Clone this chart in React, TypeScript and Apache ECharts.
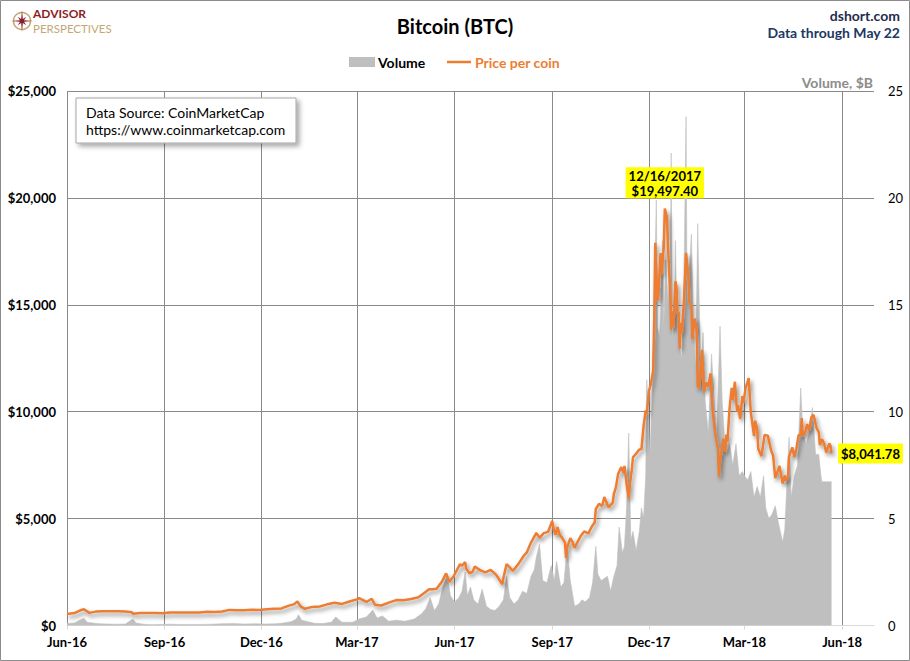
import React, { useEffect, useRef } from "react";
import * as echarts from "echarts";

// ---------- data ----------
const priceDates = [
  "2016-06-01","2016-06-08","2016-06-13","2016-06-17","2016-06-22","2016-06-28","2016-07-05","2016-07-12","2016-07-19","2016-07-26",
  "2016-08-01","2016-08-02","2016-08-09","2016-08-16","2016-08-23","2016-08-30","2016-09-06","2016-09-13","2016-09-20","2016-09-27",
  "2016-10-04","2016-10-11","2016-10-18","2016-10-25","2016-11-01","2016-11-08","2016-11-15","2016-11-22","2016-11-29","2016-12-06",
  "2016-12-13","2016-12-20","2016-12-27","2017-01-01","2017-01-04","2017-01-07","2017-01-11","2017-01-18","2017-01-25","2017-02-01",
  "2017-02-08","2017-02-15","2017-02-22","2017-03-01","2017-03-03","2017-03-10","2017-03-15","2017-03-18","2017-03-24","2017-03-31",
  "2017-04-07","2017-04-14","2017-04-21","2017-04-28","2017-05-04","2017-05-08","2017-05-12","2017-05-15","2017-05-20","2017-05-24",
  "2017-05-25","2017-05-27","2017-05-31","2017-06-06","2017-06-08","2017-06-11","2017-06-12","2017-06-15","2017-06-18","2017-06-20",
  "2017-06-25","2017-06-30","2017-07-05","2017-07-10","2017-07-16","2017-07-17","2017-07-20","2017-07-26","2017-07-31","2017-08-05",
  "2017-08-08","2017-08-12","2017-08-17","2017-08-20","2017-08-24","2017-08-28","2017-09-01","2017-09-02","2017-09-04","2017-09-06",
  "2017-09-08","2017-09-10","2017-09-13","2017-09-14","2017-09-15","2017-09-18","2017-09-20","2017-09-22","2017-09-25","2017-09-28",
  "2017-10-01","2017-10-05","2017-10-08","2017-10-11","2017-10-12","2017-10-15","2017-10-18","2017-10-20","2017-10-24","2017-10-28",
  "2017-10-29","2017-10-31","2017-11-02","2017-11-05","2017-11-07","2017-11-08","2017-11-10","2017-11-12","2017-11-13","2017-11-15",
  "2017-11-16","2017-11-19","2017-11-22","2017-11-24","2017-11-26","2017-11-28","2017-11-29","2017-12-01","2017-12-03","2017-12-05",
  "2017-12-06","2017-12-07","2017-12-08","2017-12-09","2017-12-10","2017-12-12","2017-12-13","2017-12-15","2017-12-16","2017-12-18",
  "2017-12-19","2017-12-20","2017-12-21","2017-12-22","2017-12-23","2017-12-24","2017-12-26","2017-12-27","2017-12-28","2017-12-29",
  "2017-12-30","2017-12-31","2018-01-01","2018-01-03","2018-01-05","2018-01-07","2018-01-08","2018-01-10","2018-01-11","2018-01-13",
  "2018-01-15","2018-01-16","2018-01-17","2018-01-18","2018-01-20","2018-01-22","2018-01-24","2018-01-26","2018-01-28","2018-01-30",
  "2018-02-01","2018-02-02","2018-02-04","2018-02-05","2018-02-06","2018-02-08","2018-02-09","2018-02-11","2018-02-12","2018-02-13",
  "2018-02-15","2018-02-17","2018-02-18","2018-02-20","2018-02-22","2018-02-23","2018-02-25","2018-02-27","2018-02-28","2018-03-02",
  "2018-03-05","2018-03-07","2018-03-10","2018-03-11","2018-03-13","2018-03-14","2018-03-17","2018-03-20","2018-03-23","2018-03-26",
  "2018-03-28","2018-03-30","2018-04-03","2018-04-06","2018-04-08","2018-04-09","2018-04-11","2018-04-12","2018-04-15","2018-04-17",
  "2018-04-19","2018-04-21","2018-04-23","2018-04-24","2018-04-25","2018-04-27","2018-04-29","2018-05-01","2018-05-03","2018-05-05",
  "2018-05-08","2018-05-10","2018-05-11","2018-05-13","2018-05-15","2018-05-17","2018-05-18","2018-05-20","2018-05-21","2018-05-22"
];
const priceValues = [
  537,580,700,757,590,650,670,665,672,655,
  625,547,590,580,585,575,610,608,610,605,
  610,640,637,655,730,710,710,740,730,760,
  780,800,930,998,1130,895,780,870,890,990,
  1060,1010,1120,1220,1280,1100,1250,970,935,1070,
  1190,1180,1240,1320,1540,1700,1700,1720,2040,2440,
  2310,2040,2290,2860,2800,2960,2650,2440,2520,2760,
  2590,2480,2600,2380,1930,2230,2870,2560,2870,3250,
  3420,3880,4330,4100,4320,4380,4890,4580,4240,4600,
  4230,4120,3880,3155,3640,4090,3910,3630,3920,4200,
  4400,4310,4610,4830,5450,5690,5590,6010,5530,5750,
  6150,6470,7080,7410,7150,7460,6620,5950,6560,7320,
  7870,8040,8230,8250,9330,10060,9890,10975,11320,11920,
  14290,17900,16570,15180,15460,17420,16410,17710,19497.4,19110,
  17780,16620,15800,13830,14700,13930,16100,15840,14610,14660,
  12950,14160,13660,15200,17430,16480,15170,14970,13400,14360,
  13820,11180,11120,11470,12900,10930,11360,11170,11790,10110,
  9170,8830,8280,6960,7750,8270,8740,8130,8930,8600,
  10170,11110,10550,11400,10010,10300,9660,10730,10400,11090,
  11570,9970,8870,9580,9190,8270,7920,8910,8880,8210,
  7950,6890,7460,6640,7020,6770,6970,7890,8330,7900,
  8290,8900,8930,9700,8850,8990,9420,9120,9740,9860,
  9230,9040,8440,8720,8510,8090,8250,8510,8420,8041.78
];

const volumeDates = [
  "2016-06-01","2016-06-08","2016-06-13","2016-06-17","2016-06-20","2016-06-25","2016-07-02","2016-07-10","2016-07-18","2016-07-26",
  "2016-08-02","2016-08-05","2016-08-12","2016-08-20","2016-08-28","2016-09-05","2016-09-15","2016-09-25","2016-10-05","2016-10-15",
  "2016-10-25","2016-11-05","2016-11-15","2016-11-25","2016-12-05","2016-12-15","2016-12-22","2016-12-29","2017-01-03","2017-01-05",
  "2017-01-08","2017-01-12","2017-01-20","2017-01-28","2017-02-05","2017-02-09","2017-02-15","2017-02-25","2017-03-03","2017-03-10",
  "2017-03-16","2017-03-20","2017-03-25","2017-03-31","2017-04-07","2017-04-15","2017-04-24","2017-05-01","2017-05-05","2017-05-09",
  "2017-05-13","2017-05-17","2017-05-21","2017-05-25","2017-05-28","2017-06-01","2017-06-05","2017-06-08","2017-06-11","2017-06-13",
  "2017-06-16","2017-06-19","2017-06-23","2017-06-27","2017-07-01","2017-07-05","2017-07-09","2017-07-13","2017-07-17","2017-07-20",
  "2017-07-23","2017-07-27","2017-07-31","2017-08-04","2017-08-08","2017-08-12","2017-08-15","2017-08-17","2017-08-20","2017-08-23",
  "2017-08-27","2017-08-31","2017-09-03","2017-09-05","2017-09-09","2017-09-12","2017-09-15","2017-09-18","2017-09-22","2017-09-26",
  "2017-09-29","2017-10-02","2017-10-06","2017-10-09","2017-10-12","2017-10-14","2017-10-17","2017-10-20","2017-10-23","2017-10-26",
  "2017-10-29","2017-11-01","2017-11-03","2017-11-06","2017-11-08","2017-11-10","2017-11-12","2017-11-14","2017-11-16","2017-11-19",
  "2017-11-22","2017-11-24","2017-11-26","2017-11-28","2017-11-29","2017-12-01","2017-12-02","2017-12-04","2017-12-06","2017-12-07",
  "2017-12-08","2017-12-09","2017-12-11","2017-12-12","2017-12-13","2017-12-14","2017-12-15","2017-12-17","2017-12-19","2017-12-20",
  "2017-12-21","2017-12-22","2017-12-23","2017-12-25","2017-12-26","2017-12-27","2017-12-28","2017-12-30","2018-01-01","2018-01-03",
  "2018-01-05","2018-01-06","2018-01-08","2018-01-10","2018-01-12","2018-01-14","2018-01-16","2018-01-17","2018-01-19","2018-01-21",
  "2018-01-23","2018-01-26","2018-01-29","2018-02-01","2018-02-03","2018-02-06","2018-02-08","2018-02-10","2018-02-12","2018-02-15",
  "2018-02-18","2018-02-21","2018-02-24","2018-02-27","2018-03-01","2018-03-04","2018-03-07","2018-03-10","2018-03-13","2018-03-16",
  "2018-03-19","2018-03-21","2018-03-24","2018-03-27","2018-03-30","2018-04-02","2018-04-06","2018-04-08","2018-04-12","2018-04-14",
  "2018-04-17","2018-04-20","2018-04-23","2018-04-25","2018-04-28","2018-05-01","2018-05-04","2018-05-07","2018-05-10","2018-05-12",
  "2018-05-13","2018-05-22"
];
const volumeValues = [
  0.09,0.12,0.25,0.34,0.15,0.12,0.08,0.07,0.06,0.07,
  0.30,0.12,0.06,0.04,0.05,0.06,0.05,0.05,0.05,0.06,
  0.08,0.09,0.07,0.08,0.07,0.08,0.12,0.18,0.30,0.50,
  0.25,0.20,0.10,0.09,0.15,0.40,0.15,0.15,0.30,0.40,
  0.72,0.35,0.45,0.20,0.25,0.20,0.30,0.55,0.80,1.30,
  0.70,1.00,1.80,2.40,1.40,1.10,1.30,1.60,2.50,1.40,
  1.80,1.20,1.00,1.70,0.90,0.75,0.70,0.90,1.20,2.30,
  1.30,1.00,1.20,1.60,1.50,2.30,2.60,3.20,3.80,2.10,
  2.00,2.80,2.10,3.00,1.80,2.00,3.70,2.10,0.90,1.00,
  1.20,1.10,1.30,2.00,3.70,2.40,2.10,2.20,2.30,1.60,
  2.30,2.80,4.60,3.40,3.70,5.50,9.00,4.00,4.40,3.50,
  4.40,5.50,5.00,7.00,11.5,9.00,8.00,10.5,14.0,17.5,
  19.9,14.0,13.5,14.5,16.5,18.0,14.0,17.1,15.0,16.5,
  15.5,22.1,13.5,14.0,18.0,15.0,15.2,13.0,12.5,16.0,
  23.8,15.0,16.5,18.3,14.0,12.0,18.8,16.0,11.5,13.7,
  10.5,9.0,12.7,10.0,9.0,14.0,10.5,9.0,8.0,8.5,
  7.5,8.5,7.0,7.2,7.0,6.8,7.2,6.0,6.5,6.0,
  7.0,5.5,5.0,5.2,5.6,4.8,3.9,4.5,8.8,6.0,
  7.0,7.5,11.1,9.0,8.5,9.0,10.2,8.0,8.0,7.0,
  6.72,6.72
];

const tickDates = ["2016-06-01","2016-09-01","2016-12-01","2017-03-01","2017-06-01","2017-09-01","2017-12-01","2018-03-01","2018-06-01"];
const tickLabels = ["Jun-16","Sep-16","Dec-16","Mar-17","Jun-17","Sep-17","Dec-17","Mar-18","Jun-18"];
const axisStart = "2016-06-01";
const axisEnd = "2018-07-01";
const peakDate = "2017-12-16";
const peakValue = 19497.4;
const lastDate = "2018-05-22";
const lastValue = 8041.78;

// ---------- helpers ----------
const FONT = 'Lato, "Open Sans", "Noto Sans", sans-serif';

function buildDays(start: string, end: string): string[] {
  const out: string[] = [];
  const [sy, sm, sd] = start.split("-").map(Number);
  const [ey, em, ed] = end.split("-").map(Number);
  const endT = Date.UTC(ey, em - 1, ed);
  for (let t = Date.UTC(sy, sm - 1, sd); t <= endT; t += 86400000) {
    out.push(new Date(t).toISOString().slice(0, 10));
  }
  return out;
}

const days = buildDays(axisStart, axisEnd);
const dayIndex: Record<string, number> = {};
days.forEach((d, i) => (dayIndex[d] = i));
const tickSet = new Set(tickDates);
const labelOf: Record<string, string> = {};
tickDates.forEach((d, i) => (labelOf[d] = tickLabels[i]));
const isTick = (_i: number, v: string) => tickSet.has(v);

const money = (v: number, dec: number) =>
  "$" + v.toLocaleString("en-US", { minimumFractionDigits: dec, maximumFractionDigits: dec });
const usDate = (d: string) => {
  const [y, m, dd] = d.split("-");
  return `${+m}/${+dd}/${y}`;
};

function starPoints(cx: number, cy: number): number[][] {
  const pts: number[][] = [];
  for (let k = 0; k < 16; k++) {
    const a = (k * Math.PI) / 8 - Math.PI / 2;
    const r = k % 4 === 0 ? 11 : k % 2 === 0 ? 6 : 2.2;
    pts.push([cx + r * Math.cos(a), cy + r * Math.sin(a)]);
  }
  return pts;
}

export default function App() {
  const ref = useRef<HTMLDivElement>(null);

  useEffect(() => {
    if (!ref.current) return;
    const chart = echarts.init(ref.current, undefined, { renderer: "svg" });

    const priceData = priceDates.map((d, i) => [dayIndex[d], priceValues[i]]);
    const volumeData = volumeDates.map((d, i) => [dayIndex[d], volumeValues[i]]);

    const txt = (x: number, y: number, text: string, size: number, weight: string, fill: string, align = "left") => ({
      type: "text",
      x,
      y,
      silent: true,
      style: {
        text,
        fill,
        fontSize: size,
        fontWeight: weight,
        fontFamily: FONT,
        align,
        textAlign: align,
        verticalAlign: "middle",
        textVerticalAlign: "middle",
      },
    });

    const option: any = {
      animation: false,
      backgroundColor: "#ffffff",
      grid: { left: 67, right: 36, top: 91, bottom: 35.5, containLabel: false },
      xAxis: {
        type: "category",
        data: days,
        boundaryGap: false,
        axisLine: { show: true, lineStyle: { color: "#d9d9d9", width: 1 } },
        axisTick: { show: true, interval: isTick, length: 4, lineStyle: { color: "#d9d9d9" } },
        axisLabel: {
          interval: isTick,
          formatter: (v: string) => labelOf[v] || "",
          fontFamily: FONT,
          fontWeight: "bold",
          fontSize: 13,
          color: "#000",
          margin: 10,
        },
        splitLine: { show: true, interval: isTick, lineStyle: { color: "#8a8a8a", width: 1 } },
      },
      yAxis: [
        {
          type: "value",
          min: 0,
          max: 25000,
          interval: 5000,
          position: "left",
          axisLine: { show: false },
          axisTick: { show: false },
          axisLabel: {
            formatter: (v: number) => money(v, 0),
            fontFamily: FONT,
            fontWeight: "bold",
            fontSize: 13,
            color: "#000",
            margin: 11,
          },
          splitLine: {
            show: true,
            lineStyle: { color: ["#d9d9d9", "#8a8a8a", "#8a8a8a", "#8a8a8a", "#8a8a8a", "#8a8a8a"], width: 1 },
          },
        },
        {
          type: "value",
          min: 0,
          max: 25,
          interval: 5,
          position: "right",
          axisLine: { show: false },
          axisTick: { show: false },
          splitLine: { show: false },
          axisLabel: { fontFamily: FONT, fontSize: 13, color: "#000", margin: 14 },
        },
      ],
      series: [
        {
          name: "Volume",
          type: "line",
          yAxisIndex: 1,
          data: volumeData,
          symbol: "none",
          lineStyle: { width: 0.6, color: "#bfbfbf" },
          areaStyle: { color: "#bfbfbf", opacity: 1 },
          z: 1,
        },
        {
          name: "Price per coin",
          type: "line",
          yAxisIndex: 0,
          data: priceData,
          symbol: "none",
          lineStyle: {
            color: "#ED7D31",
            width: 2.5,
            shadowColor: "rgba(0,0,0,0.45)",
            shadowBlur: 4,
            shadowOffsetX: 2,
            shadowOffsetY: 3,
          },
          z: 3,
          markPoint: {
            symbol: "circle",
            symbolSize: 1,
            itemStyle: { color: "rgba(0,0,0,0)" },
            label: {
              show: true,
              backgroundColor: "#ffff00",
              color: "#000",
              fontWeight: "bold",
              fontSize: 13,
              fontFamily: FONT,
              lineHeight: 15,
              padding: [1, 3, 0, 3],
            },
            data: [
              {
                coord: [dayIndex[peakDate], peakValue],
                label: { position: "top", distance: 10, formatter: `${usDate(peakDate)}\n${money(peakValue, 2)}` },
              },
              {
                coord: [dayIndex[lastDate], lastValue],
                label: { position: "right", distance: 6, padding: [3, 3, 2, 3], formatter: money(lastValue, 2) },
              },
            ],
          },
        },
      ],
      graphic: [
        {
          type: "rect",
          silent: true,
          shape: { x: 0.5, y: 0.5, width: 909, height: 660 },
          style: { fill: "none", stroke: "#8c8c8c", lineWidth: 1 },
        },
        // logo
        {
          type: "circle",
          silent: true,
          shape: { cx: 22, cy: 21, r: 8.5 },
          style: { fill: "none", stroke: "#c3a874", lineWidth: 1.5 },
        },
        {
          type: "polygon",
          silent: true,
          shape: { points: starPoints(22, 21) },
          style: { fill: "#8b1d24" },
        },
        txt(33, 13.5, "ADVISOR", 12, "bold", "#8b1d24"),
        txt(33, 28.5, "PERSPECTIVES", 11.5, "normal", "#c3a874"),
        // title & header
        txt(455, 26, "Bitcoin (BTC)", 20, "bold", "#000", "center"),
        txt(900, 15, "dshort.com", 14, "bold", "#1f2d4d", "right"),
        txt(900, 32.5, "Data through May 22", 14, "bold", "#203864", "right"),
        // legend
        {
          type: "rect",
          silent: true,
          shape: { x: 349, y: 57, width: 26, height: 10 },
          style: { fill: "#bfbfbf" },
        },
        txt(378, 62, "Volume", 14, "bold", "#000"),
        {
          type: "line",
          silent: true,
          shape: { x1: 447, y1: 62, x2: 471, y2: 62 },
          style: { stroke: "#ED7D31", lineWidth: 2.5 },
        },
        txt(475, 62, "Price per coin", 14, "bold", "#ED7D31"),
        txt(873, 82, "Volume, $B", 14, "bold", "#8c8c8c", "right"),
        // source box
        {
          type: "rect",
          silent: true,
          shape: { x: 76, y: 98, width: 220, height: 45 },
          style: {
            fill: "#ffffff",
            stroke: "#a6a6a6",
            lineWidth: 1,
            shadowBlur: 5,
            shadowOffsetX: 3,
            shadowOffsetY: 3,
            shadowColor: "rgba(0,0,0,0.35)",
          },
          z: 10,
        },
        { ...txt(86, 112, "Data Source: CoinMarketCap", 14, "normal", "#000"), z: 11 },
        { ...txt(86, 129.5, "https://www.coinmarketcap.com", 14, "normal", "#000"), z: 11 },
      ],
    };

    chart.setOption(option);
    return () => chart.dispose();
  }, []);

  return (
    <div
      ref={ref}
      style={{ position: "absolute", left: 0, top: 0, width: 910, height: 661, background: "#fff" }}
    />
  );
}
